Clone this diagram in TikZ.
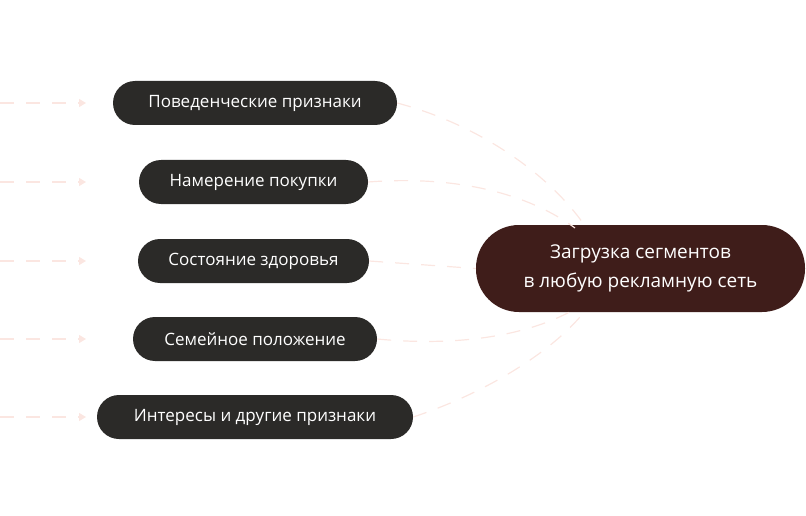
\documentclass[tikz,border=0pt]{standalone}
\usepackage{fontspec}
\setmainfont{Open Sans}
\usetikzlibrary{arrows.meta}

\definecolor{pillgray}{HTML}{2B2A28}
\definecolor{pillbrown}{HTML}{3F1D1A}
\definecolor{linepink}{HTML}{FBE6E1}

\tikzset{
    pill/.style={rounded corners=22pt, fill=pillgray, text=white, minimum height=44pt, inner xsep=18pt, font=\fontsize{17}{20}\selectfont},
    target/.style={rounded corners=43pt, fill=pillbrown, text=white, minimum height=87pt, minimum width=329pt, align=center, font=\fontsize{19}{29}\selectfont},
    link/.style={draw=linepink, line width=1.2pt, dash pattern=on 14pt off 12pt},
    feed/.style={link, -{Triangle[length=7pt,width=8pt]}}
}

\begin{document}
\begin{tikzpicture}[x=1pt, y=-1pt]
        \useasboundingbox (0,0) rectangle (806,516);

        \node[target] (seg) at (640.5,268.5) {Загрузка сегментов\\в любую рекламную сеть};

        \node[pill, minimum width=284pt] (beh) at (255,103) {Поведенческие признаки};
        \node[pill, minimum width=229pt] (buy) at (253.5,182) {Намерение покупки};
        \node[pill, minimum width=231pt] (hlt) at (253.5,261) {Состояние здоровья};
        \node[pill, minimum width=244pt] (fam) at (255,339) {Семейное положение};
        \node[pill, minimum width=316pt] (int) at (255,417) {Интересы и другие признаки};

        \coordinate (in1) at (0,103);
        \coordinate (in2) at (0,182);
        \coordinate (in3) at (0,261);
        \coordinate (in4) at (0,339);
        \coordinate (in5) at (0,417);

        \draw[feed] (in1) -- (86,103);
        \draw[feed] (in2) -- (86,182);
        \draw[feed] (in3) -- (86,261);
        \draw[feed] (in4) -- (86,339);
        \draw[feed] (in5) -- (86,417);

        \draw[link] (beh.east) .. controls (480,125) and (550,175) .. (585,226);
        \draw[link] (buy.east) .. controls (460,175) and (530,195) .. (575,228);
        \draw[link] (hlt.east) -- (seg.west);
        \draw[link] (fam.east) .. controls (460,347) and (530,335) .. (575,309);
        \draw[link] (int.east) .. controls (480,395) and (550,355) .. (585,311);
\end{tikzpicture}
\end{document}
